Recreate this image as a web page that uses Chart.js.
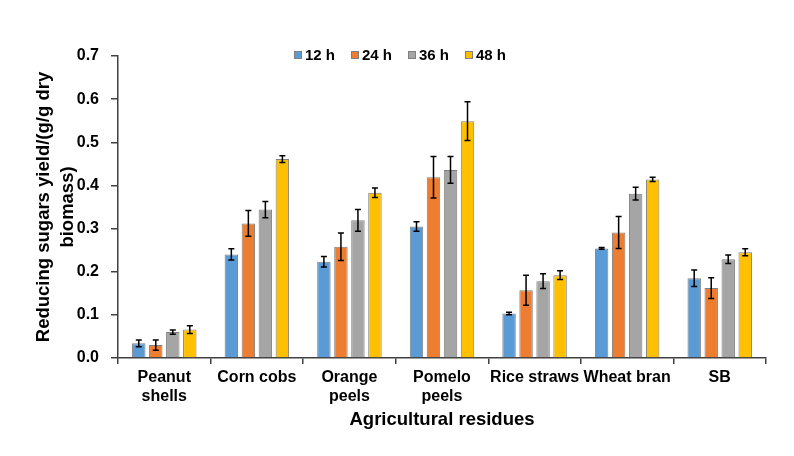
<!DOCTYPE html>
<html>
<head>
<meta charset="utf-8">
<script src="https://cdn.jsdelivr.net/npm/chart.js@4.4.1/dist/chart.umd.min.js"></script>
<style>
  html, body { margin: 0; padding: 0; background: #fff; }
  #wrap { width: 794px; height: 456px; }
</style>
</head>
<body>
<div id="wrap"><canvas id="sugarchart" width="794" height="456"></canvas></div>
<script>
const categories = [['Peanut', 'shells'], 'Corn cobs', ['Orange', 'peels'], ['Pomelo', 'peels'], 'Rice straws', 'Wheat bran', 'SB'];
const seriesNames = ['12 h', '24 h', '36 h', '48 h'];
const h12 = [0.034, 0.240, 0.223, 0.305, 0.103, 0.254, 0.185];
const h24 = [0.030, 0.312, 0.258, 0.419, 0.157, 0.291, 0.162];
const h36 = [0.060, 0.344, 0.319, 0.436, 0.178, 0.381, 0.229];
const h48 = [0.066, 0.461, 0.383, 0.549, 0.192, 0.414, 0.245];
const err12 = [0.008, 0.013, 0.012, 0.011, 0.003, 0.002, 0.019];
const err24 = [0.012, 0.030, 0.032, 0.048, 0.035, 0.037, 0.024];
const err36 = [0.005, 0.019, 0.025, 0.031, 0.017, 0.015, 0.010];
const err48 = [0.009, 0.008, 0.011, 0.045, 0.010, 0.005, 0.008];
const yTicks = [0, 0.1, 0.2, 0.3, 0.4, 0.5, 0.6, 0.7];

const colors = ['#5B9BD5', '#ED7D31', '#A5A5A5', '#FFC000'];
const font = "'Liberation Sans', Arial, sans-serif";
const axisColor = '#404040';

const values = [h12, h24, h36, h48];
const errors = [err12, err24, err36, err48];

// error bars drawn on top of each bar
const errorBars = {
    id: 'errorBars',
    afterDatasetsDraw(chart) {
        const ctx = chart.ctx;
        const y = chart.scales.y;
        ctx.save();
        ctx.strokeStyle = '#000';
        ctx.lineWidth = 1.5;
        chart.data.datasets.forEach((ds, i) => {
            const meta = chart.getDatasetMeta(i);
            meta.data.forEach((bar, j) => {
                const v = ds.data[j];
                const e = ds.errors[j];
                const top = y.getPixelForValue(v + e);
                const bot = y.getPixelForValue(v - e);
                ctx.beginPath();
                ctx.moveTo(bar.x, top); ctx.lineTo(bar.x, bot);
                ctx.moveTo(bar.x - 3, top); ctx.lineTo(bar.x + 3, top);
                ctx.moveTo(bar.x - 3, bot); ctx.lineTo(bar.x + 3, bot);
                ctx.stroke();
            });
        });
        ctx.restore();
    }
};

// legend laid over the top of the plot, centred on the canvas
const topLegend = {
    id: 'topLegend',
    afterDraw(chart) {
        const ctx = chart.ctx;
        ctx.save();
        ctx.font = 'bold 15px ' + font;
        ctx.textBaseline = 'middle';
        const box = 8, gap = 3, spacing = 16;
        const widths = chart.data.datasets.map(ds => box + gap + ctx.measureText(ds.label).width);
        const total = widths.reduce((a, b) => a + b, 0) + spacing * (widths.length - 1);
        let x = 400 - total / 2;
        const cy = 55;
        chart.data.datasets.forEach((ds, i) => {
            ctx.fillStyle = ds.backgroundColor;
            ctx.fillRect(x, cy - box / 2, box, box);
            ctx.strokeStyle = '#7f7f7f';
            ctx.lineWidth = 1;
            ctx.strokeRect(x + 0.5, cy - box / 2 + 0.5, box - 1, box - 1);
            ctx.fillStyle = '#000';
            ctx.fillText(ds.label, x + box + gap, cy + 1);
            x += widths[i] + spacing;
        });
        ctx.restore();
    }
};

const ctxgraph = document.getElementById('sugarchart').getContext('2d');
const sugarChart = new Chart(ctxgraph, {
    type: 'bar',
    data: {
        labels: categories,
        datasets: seriesNames.map((name, i) => ({
            label: name,
            data: values[i],
            errors: errors[i],
            backgroundColor: colors[i],
            borderColor: '#7f7f7f',
            borderWidth: 1,
            categoryPercentage: 0.735,
            barPercentage: 0.79
        }))
    },
    options: {
        responsive: false,
        animation: false,
        layout: { padding: { top: 56, right: 28, bottom: 0, left: 0 } },
        plugins: {
            legend: { display: false },
            tooltip: { enabled: false }
        },
        scales: {
            x: {
                afterFit(scale) { scale.height = 98; },
                grid: { display: true, drawOnChartArea: false, offset: true, tickLength: 6, color: axisColor, lineWidth: 1.5 },
                border: { color: axisColor, width: 1.5 },
                ticks: { color: '#000', padding: 4, maxRotation: 0, autoSkip: false, font: { family: font, size: 16, weight: 'bold' } },
                title: {
                    display: true,
                    text: 'Agricultural residues',
                    color: '#000',
                    padding: { top: 0, bottom: 25 },
                    font: { family: font, size: 18.5, weight: 'bold' }
                }
            },
            y: {
                min: 0,
                max: 0.7,
                afterFit(scale) { scale.width = 118; },
                afterBuildTicks(scale) { scale.ticks = yTicks.map(v => ({ value: v })); },
                grid: { display: true, drawOnChartArea: false, tickLength: 7, color: axisColor, lineWidth: 1.5 },
                border: { color: axisColor, width: 1.5 },
                ticks: {
                    color: '#000',
                    padding: 12,
                    font: { family: font, size: 16, weight: 'bold' },
                    callback: v => Number(v).toFixed(1)
                },
                title: {
                    display: true,
                    text: ['Reducing sugars yield/(g/g dry', 'biomass)'],
                    color: '#000',
                    padding: { top: 32, bottom: 0 },
                    font: { family: font, size: 18.5, weight: 'bold', lineHeight: 1.3 }
                }
            }
        }
    },
    plugins: [errorBars, topLegend]
});
</script>
</body>
</html>
